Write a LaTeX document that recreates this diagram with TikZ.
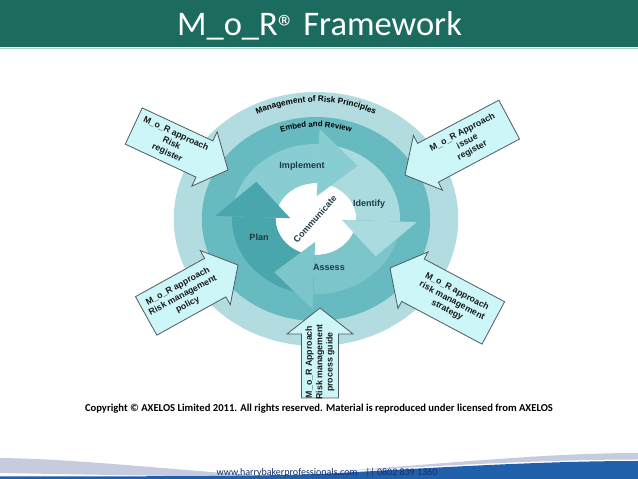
\documentclass[tikz,border=0pt]{standalone}
\usepackage{fontspec}
\setmainfont{Carlito}
\newfontfamily\arialf{Liberation Sans}
\usetikzlibrary{decorations.text}
\definecolor{barteal}{HTML}{1B6B5E}
\definecolor{barline}{HTML}{A9D2CB}
\definecolor{outerring}{HTML}{B3DCE0}
\definecolor{midring}{HTML}{68BAC1}
\definecolor{implc}{HTML}{88CDD2}
\definecolor{idenc}{HTML}{AADCDF}
\definecolor{assec}{HTML}{7CC5CA}
\definecolor{planc}{HTML}{4AA6AD}
\definecolor{labelc}{HTML}{1E3A44}
\definecolor{boxfill}{HTML}{CDF6F8}
\definecolor{boxline}{HTML}{4F5B60}
\definecolor{footblue}{HTML}{2160AA}
\definecolor{footlav}{HTML}{C6CBE0}
\definecolor{urlc}{HTML}{12306A}
\tikzset{
  inbox/.style={fill=boxfill, draw=boxline, line width=0.8pt, line join=miter},
  arrowtext/.style={font=\arialf\bfseries\fontsize{8.8}{10.4}\selectfont, align=center, inner sep=0pt, text=black!90},
  cyclelabel/.style={font=\arialf\bfseries\fontsize{9}{10}\selectfont, text=labelc, inner sep=0pt},
}
% #1 name, #2 tip, #3 direction, #4 length, #5 body width, #6 head width, #7 text rotation, #8 text
\newcommand{\inarrow}[8]{%
  \begin{scope}[shift={#2}, rotate=#3]
    \draw[inbox] (0,0) -- (-26,#6/2) -- (-26,#5/2) -- (-#4,#5/2) -- (-#4,-#5/2) -- (-26,-#5/2) -- (-26,-#6/2) -- cycle;
    \node[arrowtext, rotate=#7] (#1) at (-0.6*#4,0) {#8};
  \end{scope}}
\begin{document}
\begin{tikzpicture}[x=1pt,y=1pt]
\useasboundingbox (0,0) rectangle (638,479);
\fill[white] (0,0) rectangle (638,479);
% title bar
\fill[barteal] (0,431.5) rectangle (638,479);
\draw[barline, line width=1.2pt] (0,430.6) -- (638,430.6);
\node[font=\fontsize{34.5}{38}\selectfont, text=white, anchor=base, inner sep=0pt] (title) at (319.5,443.3)
  {M\_o\_R{\fontsize{35}{35}\selectfont\raisebox{-4pt}{®}} Framework};
% rings and cycle
\begin{scope}[shift={(316,260)}, xscale=1.12]
  \fill[outerring] (0,0) circle[radius=127];
  \fill[midring] (0,0) circle[radius=102];
  \fill[white] (0,0) circle[radius=36];
  \foreach \b/\c in {88/implc,-2/idenc,-92/assec,178/planc}{
    \fill[\c] ({\b+90}:75) arc[start angle={\b+90}, end angle=\b, radius=75]
      -- (\b:36) arc[start angle=\b, end angle={\b+90}, radius=36] -- cycle;}
  \foreach \b/\c in {88/implc,-2/idenc,-92/assec,178/planc}{
    \fill[\c] (\b:90) -- ({\b-33}:65) -- (\b:23) -- cycle;}
\end{scope}
\path[decorate, decoration={text along path, text align=center,
   text={|\arialf\bfseries\fontsize{8.2}{9}\selectfont|Management of Risk Principles}}]
   (316,260) ++(155:131 and 117) arc[start angle=155, end angle=25, x radius=131, y radius=117];
\path[decorate, decoration={text along path, text align=center,
   text={|\arialf\bfseries\fontsize{7.8}{9}\selectfont|Embed and Review}}]
   (316,260) ++(150:103 and 92) arc[start angle=150, end angle=30, x radius=103, y radius=92];
\node[cyclelabel] (implement) at (302,313) {Implement};
\node[cyclelabel] (identify) at (369,275) {Identify};
\node[cyclelabel] (plan) at (259,242) {Plan};
\node[cyclelabel] (assess) at (329,212) {Assess};
\node[cyclelabel, rotate=48] (communicate) at (315,260) {Communicate};
% input arrows
\inarrow{riskreg}{(228,309)}{-25}{104}{40}{60}{-25}{M\_o\_R approach\\Risk\\register}
\inarrow{issuereg}{(405,304)}{208}{118}{44}{62}{28}{M\_o\_R Approach\\issue\\register}
\inarrow{policy}{(238,214)}{29}{105}{44}{62}{28}{M\_o\_R approach\\Risk management\\policy}
\inarrow{strategy}{(390,211)}{152}{117}{48}{64}{-28}{M\_o\_R approach\\risk management\\strategy}
\inarrow{guide}{(320,171)}{90}{90}{37}{66}{90}{M\_o\_R Approach\\Risk management\\process guide}
% copyright
\node[font=\bfseries\fontsize{10.6}{12}\selectfont, anchor=base, inner sep=0pt] (copy) at (319,67)
  {Copyright © AXELOS Limited 2011. All rights reserved. Material is reproduced under licensed from AXELOS};
% footer wave
\fill[footlav] (0,21) .. controls (80,20) and (170,9) .. (280,2) .. controls (150,3) and (60,5) .. (0,6) -- cycle;
\fill[footblue] (0,0) -- (0,2.5) .. controls (120,3) and (230,2) .. (320,5) .. controls (430,11) and (540,18) .. (638,18) -- (638,0) -- cycle;
\fill[footlav] (300,5) .. controls (420,13) and (540,26) .. (638,26) -- (638,19.5) .. controls (540,19.5) and (430,12.5) .. (320,6.5) -- cycle;
\node[font=\fontsize{10}{11}\selectfont, text=urlc, anchor=base, inner sep=0pt] (url) at (327,3)
  {www.harrybakerprofessionals.com\hspace{8pt}|| 0802 839 1360};
\end{tikzpicture}
\end{document}
